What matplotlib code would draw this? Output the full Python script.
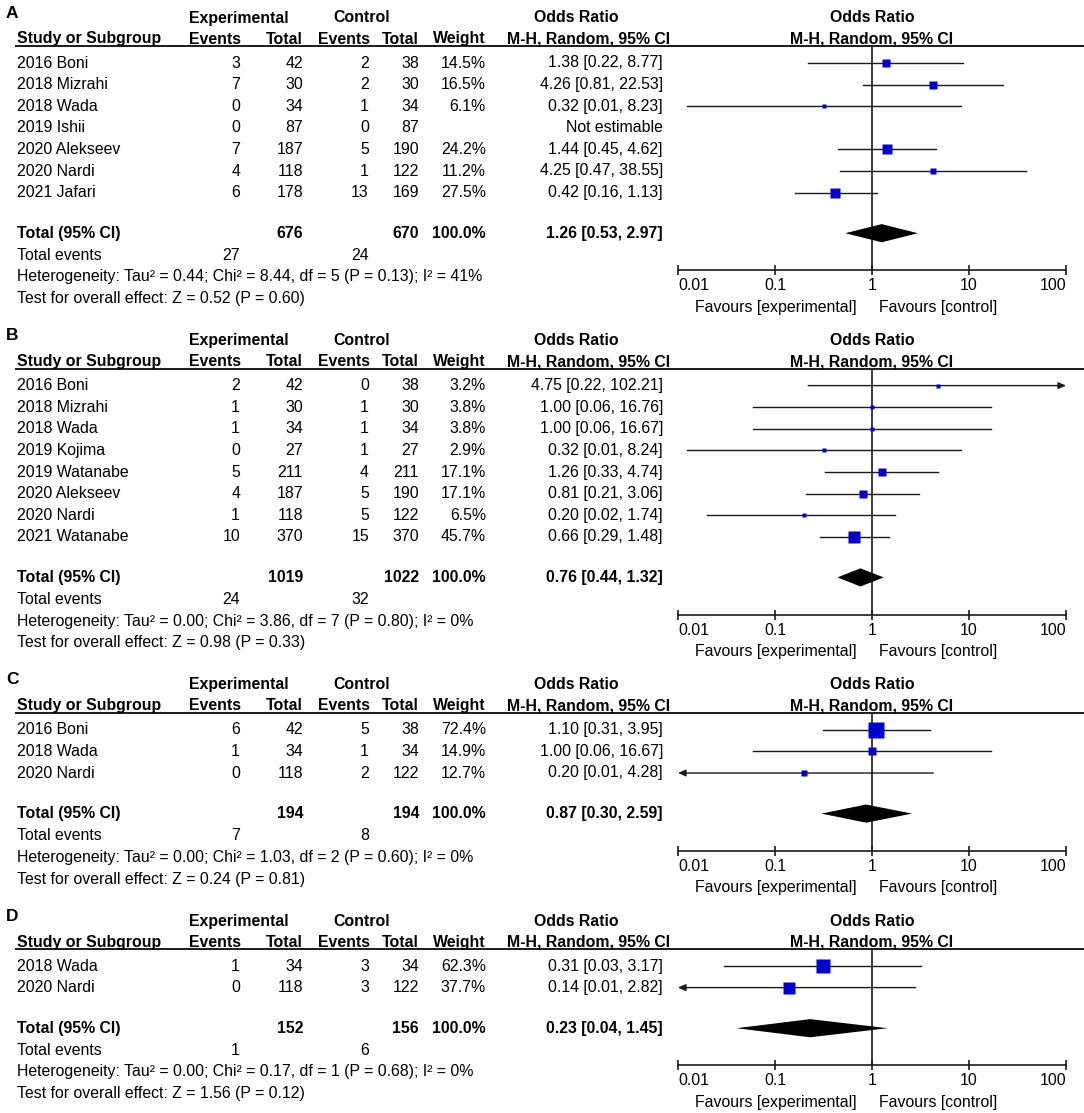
import numpy as np
import matplotlib
matplotlib.use("Agg")
import matplotlib.pyplot as plt
from matplotlib.ticker import NullLocator

plt.rcParams['font.family'] = ['Liberation Sans', 'DejaVu Sans']

# ---- Panel A
studies_a = ["2016 Boni", "2018 Mizrahi", "2018 Wada", "2019 Ishii",
             "2020 Alekseev", "2020 Nardi", "2021 Jafari"]
exp_ev_a = [3, 7, 0, 0, 7, 4, 6]
exp_tot_a = [42, 30, 34, 87, 187, 118, 178]
ctl_ev_a = [2, 2, 1, 0, 5, 1, 13]
ctl_tot_a = [38, 30, 34, 87, 190, 122, 169]
weight_a = [14.5, 16.5, 6.1, None, 24.2, 11.2, 27.5]
or_a = [1.38, 4.26, 0.32, None, 1.44, 4.25, 0.42]
lo_a = [0.22, 0.81, 0.0125, None, 0.45, 0.47, 0.16]
hi_a = [8.77, 22.53, 8.23, None, 4.62, 38.55, 1.13]
total_a = [676, 670, 27, 24]          # exp total, ctl total, exp events, ctl events
pooled_a = [1.26, 0.53, 2.97]
het_a = "Heterogeneity: Tau² = 0.44; Chi² = 8.44, df = 5 (P = 0.13); I² = 41%"
test_a = "Test for overall effect: Z = 0.52 (P = 0.60)"

# ---- Panel B
studies_b = ["2016 Boni", "2018 Mizrahi", "2018 Wada", "2019 Kojima",
             "2019 Watanabe", "2020 Alekseev", "2020 Nardi", "2021 Watanabe"]
exp_ev_b = [2, 1, 1, 0, 5, 4, 1, 10]
exp_tot_b = [42, 30, 34, 27, 211, 187, 118, 370]
ctl_ev_b = [0, 1, 1, 1, 4, 5, 5, 15]
ctl_tot_b = [38, 30, 34, 27, 211, 190, 122, 370]
weight_b = [3.2, 3.8, 3.8, 2.9, 17.1, 17.1, 6.5, 45.7]
or_b = [4.75, 1.00, 1.00, 0.32, 1.26, 0.81, 0.20, 0.66]
lo_b = [0.22, 0.06, 0.06, 0.0124, 0.33, 0.21, 0.02, 0.29]
hi_b = [102.21, 16.76, 16.67, 8.24, 4.74, 3.06, 1.74, 1.48]
total_b = [1019, 1022, 24, 32]
pooled_b = [0.76, 0.44, 1.32]
het_b = "Heterogeneity: Tau² = 0.00; Chi² = 3.86, df = 7 (P = 0.80); I² = 0%"
test_b = "Test for overall effect: Z = 0.98 (P = 0.33)"

# ---- Panel C
studies_c = ["2016 Boni", "2018 Wada", "2020 Nardi"]
exp_ev_c = [6, 1, 0]
exp_tot_c = [42, 34, 118]
ctl_ev_c = [5, 1, 2]
ctl_tot_c = [38, 34, 122]
weight_c = [72.4, 14.9, 12.7]
or_c = [1.10, 1.00, 0.20]
lo_c = [0.31, 0.06, 0.0094]
hi_c = [3.95, 16.67, 4.28]
total_c = [194, 194, 7, 8]
pooled_c = [0.87, 0.30, 2.59]
het_c = "Heterogeneity: Tau² = 0.00; Chi² = 1.03, df = 2 (P = 0.60); I² = 0%"
test_c = "Test for overall effect: Z = 0.24 (P = 0.81)"

# ---- Panel D
studies_d = ["2018 Wada", "2020 Nardi"]
exp_ev_d = [1, 0]
exp_tot_d = [34, 118]
ctl_ev_d = [3, 3]
ctl_tot_d = [34, 122]
weight_d = [62.3, 37.7]
or_d = [0.31, 0.14]
lo_d = [0.03, 0.0069]
hi_d = [3.17, 2.82]
total_d = [152, 156, 1, 6]
pooled_d = [0.23, 0.04, 1.45]
het_d = "Heterogeneity: Tau² = 0.00; Chi² = 0.17, df = 1 (P = 0.68); I² = 0%"
test_d = "Test for overall effect: Z = 1.56 (P = 0.12)"

panels = [
    ("A", studies_a, exp_ev_a, exp_tot_a, ctl_ev_a, ctl_tot_a, weight_a, or_a, lo_a, hi_a, total_a, pooled_a, het_a, test_a),
    ("B", studies_b, exp_ev_b, exp_tot_b, ctl_ev_b, ctl_tot_b, weight_b, or_b, lo_b, hi_b, total_b, pooled_b, het_b, test_b),
    ("C", studies_c, exp_ev_c, exp_tot_c, ctl_ev_c, ctl_tot_c, weight_c, or_c, lo_c, hi_c, total_c, pooled_c, het_c, test_c),
    ("D", studies_d, exp_ev_d, exp_tot_d, ctl_ev_d, ctl_tot_d, weight_d, or_d, lo_d, hi_d, total_d, pooled_d, het_d, test_d),
]

W, H = 1084, 1113
RH = 21.6          # row height in px
FS = 11.4
LINE = '#1a1a1a'
BLUE = '#0000CC'
X0, X1 = 678, 1066  # pixel extent of the 0.01..100 axis

fig = plt.figure(figsize=(W / 100, H / 100), dpi=100)


def ci_text(o, l, h):
    return f"{o:.2f} [{l:.2f}, {h:.2f}]"


y0 = 63
for (letter, names, eev, etot, cev, ctot, wts, ors, los, his,
     tot, pooled, het, test) in panels:
    n = len(names)
    top = -17 / RH
    bottom = n + 2.6
    top_px = y0 - 17
    bot_px = y0 + bottom * RH
    rect_y = 1 - bot_px / H
    rect_h = (bot_px - top_px) / H

    tab = fig.add_axes([0, rect_y, 1, rect_h])
    tab.set_xlim(0, W)
    tab.set_ylim(bottom, top)
    tab.axis('off')

    ax = fig.add_axes([X0 / W, rect_y, (X1 - X0) / W, rect_h])
    ax.patch.set_visible(False)
    ax.set_xscale('log')
    ax.set_xlim(0.01, 100)
    ax.set_ylim(bottom, top)

    h1 = -45 / RH
    h2 = -24 / RH
    bold = dict(fontsize=FS, fontweight='bold', va='center')
    reg = dict(fontsize=FS, va='center')

    # headers
    tab.text(6, -50 / RH, letter, fontsize=12.5, fontweight='bold', va='center', ha='left')
    tab.text(239, h1, "Experimental", ha='center', **bold)
    tab.text(362, h1, "Control", ha='center', **bold)
    tab.text(576, h1, "Odds Ratio", ha='center', **bold)
    tab.text(17, h2, "Study or Subgroup", ha='left', **bold)
    tab.text(241, h2, "Events", ha='right', **bold)
    tab.text(303, h2, "Total", ha='right', **bold)
    tab.text(370, h2, "Events", ha='right', **bold)
    tab.text(419, h2, "Total", ha='right', **bold)
    tab.text(486, h2, "Weight", ha='right', **bold)
    tab.text(589, h2, "M-H, Random, 95% CI", ha='center', **bold)
    ax.text(1, h1, "Odds Ratio", ha='center', **bold)
    ax.text(1, h2, "M-H, Random, 95% CI", ha='center', **bold)
    tab.plot([15, W], [top, top], color=LINE, lw=1.4, clip_on=False,
             solid_capstyle='butt')

    # study rows
    for i in range(n):
        tab.text(17, i, names[i], ha='left', **reg)
        tab.text(240, i, str(eev[i]), ha='right', **reg)
        tab.text(303, i, str(etot[i]), ha='right', **reg)
        tab.text(369, i, str(cev[i]), ha='right', **reg)
        tab.text(419, i, str(ctot[i]), ha='right', **reg)
        if ors[i] is None:
            tab.text(663, i, "Not estimable", ha='right', **reg)
            continue
        tab.text(486, i, f"{wts[i]:.1f}%", ha='right', **reg)
        tab.text(663, i, ci_text(ors[i], los[i], his[i]), ha='right', **reg)

        arrow = dict(arrowstyle='-|>,head_length=0.45,head_width=0.2',
                     color=LINE, lw=1.0, shrinkA=0, shrinkB=0)
        if los[i] < 0.01:
            ax.annotate('', xy=(0.01, i), xytext=(min(his[i], 100), i),
                        arrowprops=arrow, annotation_clip=False)
        elif his[i] > 100:
            ax.annotate('', xy=(100, i), xytext=(max(los[i], 0.01), i),
                        arrowprops=arrow, annotation_clip=False)
        else:
            ax.plot([los[i], his[i]], [i, i], color=LINE, lw=1.0)
        side_px = 1.9 * np.sqrt(wts[i])
        ax.plot(ors[i], i, marker='s', ms=side_px * 0.72, color=BLUE,
                mec='none', zorder=4)

    # totals
    rt = n + 0.88
    tab.text(17, rt, "Total (95% CI)", ha='left', **bold)
    tab.text(303, rt, str(tot[0]), ha='right', **bold)
    tab.text(419, rt, str(tot[1]), ha='right', **bold)
    tab.text(486, rt, "100.0%", ha='right', **bold)
    tab.text(663, rt, ci_text(*pooled), ha='right', **bold)
    est, plo, phi = pooled
    ax.fill([plo, est, phi, est], [rt, rt - 0.42, rt, rt + 0.42],
            color='black', lw=0, zorder=4)

    re = n + 1.89
    tab.text(17, re, "Total events", ha='left', **reg)
    tab.text(240, re, str(tot[2]), ha='right', **reg)
    tab.text(369, re, str(tot[3]), ha='right', **reg)
    tab.text(17, n + 2.9, het, ha='left', **reg)
    tab.text(17, n + 3.91, test, ha='left', **reg)

    # forest axis
    ax.axvline(1, color=LINE, lw=1.2, zorder=1)
    for s in ['top', 'left', 'right']:
        ax.spines[s].set_visible(False)
    ax.spines['bottom'].set_linewidth(1.2)
    ax.spines['bottom'].set_color(LINE)
    ax.set_yticks([])
    ax.set_xticks([0.01, 0.1, 1, 10, 100], ['0.01', '0.1', '1', '10', '100'])
    ax.xaxis.set_minor_locator(NullLocator())
    ax.tick_params(axis='x', direction='inout', length=6.5, width=1.2,
                   color=LINE, pad=2.5, labelsize=FS)
    ticks = ax.xaxis.get_major_ticks()
    ticks[0].label1.set_horizontalalignment('left')
    ticks[-1].label1.set_horizontalalignment('right')
    ax.annotate("Favours [experimental]", xy=(1, 0), xycoords=('data', 'axes fraction'),
                xytext=(-11, -26.6), textcoords='offset points',
                ha='right', va='center', fontsize=FS)
    ax.annotate("Favours [control]", xy=(1, 0), xycoords=('data', 'axes fraction'),
                xytext=(5, -26.6), textcoords='offset points',
                ha='left', va='center', fontsize=FS)

    y0 = y0 + (n + 4) * RH + 85

fig.savefig("out.png", dpi=100, facecolor='white')
